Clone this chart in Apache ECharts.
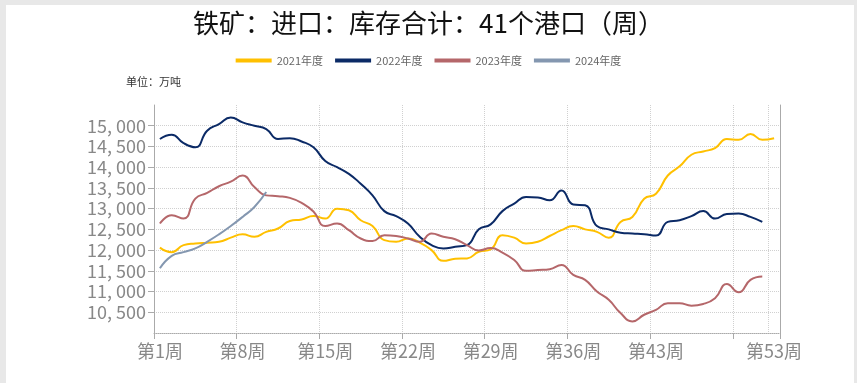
<!DOCTYPE html>
<html>
<head>
<meta charset="utf-8">
<script src="https://cdn.jsdelivr.net/npm/echarts@6/dist/echarts.min.js"></script>
<style>
  html, body { margin:0; padding:0; width:857px; height:383px; background:#e8e8e8; overflow:hidden; }
  #panel { position:absolute; left:6px; top:5px; width:848px; height:378px; background:#ffffff; }
  #chart { position:absolute; left:0; top:0; width:857px; height:383px; }
</style>
</head>
<body>
<div id="panel"></div>
<div id="chart"></div>
<script>
const titleText = '铁矿：进口：库存合计：41个港口（周）';
const unitText = '单位：万吨';
const weeks = Array.from({ length: 53 }, (_, i) => '第' + (i + 1) + '周');
const seriesNames = ['2021年度', '2022年度', '2023年度', '2024年度'];

const y2021 = [12060, 11950, 12120, 12160, 12180, 12200, 12300, 12380, 12320, 12440,
  12520, 12700, 12740, 12820, 12760, 13000, 12960, 12720, 12580, 12240,
  12200, 12280, 12180, 12000, 11740, 11790, 11800, 11960, 12020, 12360,
  12300, 12160, 12200, 12340, 12480, 12580, 12500, 12440, 12300, 12680,
  12800, 13240, 13360, 13800, 14020, 14300, 14380, 14460, 14680, 14660,
  14800, 14660, 14700];
const y2022 = [14680, 14780, 14580, 14480, 14880, 15040, 15200, 15080, 15000, 14920,
  14680, 14700, 14620, 14480, 14150, 14000, 13840, 13600, 13320, 12940,
  12820, 12640, 12320, 12120, 12040, 12080, 12120, 12500, 12620, 12940,
  13120, 13280, 13270, 13200, 13440, 13100, 13080, 12580, 12500, 12420,
  12400, 12385, 12350, 12680, 12720, 12820, 12940, 12760, 12870, 12880,
  12800, 12680];
const y2023 = [12640, 12840, 12760, 13240, 13380, 13540, 13650, 13800, 13520, 13320,
  13300, 13260, 13140, 12930, 12580, 12640, 12480, 12280, 12220, 12360,
  12340, 12280, 12200, 12400, 12320, 12260, 12120, 11990, 12050, 11940,
  11760, 11500, 11520, 11540, 11640, 11400, 11280, 11000, 10800, 10480,
  10280, 10440, 10560, 10720, 10720, 10660, 10700, 10840, 11180, 10980,
  11280, 11360];
const y2024 = [11560, 11860, 11950, 12040, 12200, 12380, 12580, 12800, 13040, 13400];

const colors = ['#FFC000', '#0B2A66', '#B5676A', '#8497B0'];
const allData = [y2021, y2022, y2023, y2024];

const chart = echarts.init(document.getElementById('chart'), null, { renderer: 'canvas' });
const fontCJK = '"Noto Sans CJK SC", "Noto Sans", sans-serif';

const option = {
  animation: false,
  backgroundColor: 'transparent',
  color: colors,
  title: {
    text: titleText,
    left: 'center',
    top: 5,
    textStyle: { fontSize: 26, fontWeight: 'normal', color: '#111', fontFamily: fontCJK }
  },
  legend: {
    top: 50,
    left: 'center',
    icon: 'rect',
    itemWidth: 36,
    itemHeight: 4,
    itemGap: 12,
    data: seriesNames,
    textStyle: { fontSize: 11, color: '#666', fontFamily: fontCJK }
  },
  graphic: [{
    type: 'text',
    left: 126,
    top: 76,
    style: { text: unitText, fontSize: 11, fill: '#333', fontFamily: fontCJK }
  }],
  grid: { left: 154, right: 77, top: 105, bottom: 50, containLabel: false },
  xAxis: {
    type: 'category',
    data: weeks,
    boundaryGap: true,
    axisLine: { show: true, lineStyle: { color: '#aaaaaa', type: 'dotted', width: 1 } },
    axisTick: { show: true, interval: (i) => i % 7 === 0, length: 6, lineStyle: { color: '#aaaaaa' } },
    axisLabel: {
      interval: (i) => (i % 7 === 0 && i !== 49) || i === 52,
      fontSize: 18, color: '#888888', margin: 9, fontFamily: fontCJK
    },
    splitLine: { show: true, interval: (i) => i % 7 === 0 || i === 52, lineStyle: { color: '#d0d0d0', type: 'dotted' } }
  },
  yAxis: [{
    type: 'value',
    min: 10000,
    max: 15500,
    interval: 500,
    axisLine: { show: true, lineStyle: { color: '#aaaaaa' } },
    axisTick: { show: true, length: 6, lineStyle: { color: '#aaaaaa' } },
    axisLabel: {
      showMinLabel: false, showMaxLabel: false,
      fontSize: 18, color: '#888888', margin: 8, fontFamily: fontCJK,
      formatter: (v) => Math.floor(v / 1000) + ', ' + String(v % 1000).padStart(3, '0')
    },
    splitLine: { show: true, showMaxLine: false, lineStyle: { color: '#d0d0d0', type: 'dotted' } }
  }, {
    type: 'value',
    position: 'right',
    min: 10000,
    max: 15500,
    interval: 500,
    axisLine: { show: true, lineStyle: { color: '#aaaaaa' } },
    axisTick: { show: false },
    axisLabel: { show: false },
    splitLine: { show: false }
  }],
  series: seriesNames.map((name, k) => ({
    name: name,
    type: 'line',
    data: allData[k],
    smooth: true,
    showSymbol: false,
    symbol: 'none',
    lineStyle: { width: 2, color: colors[k] },
    itemStyle: { color: colors[k] }
  }))
};
chart.setOption(option);
</script>
</body>
</html>
